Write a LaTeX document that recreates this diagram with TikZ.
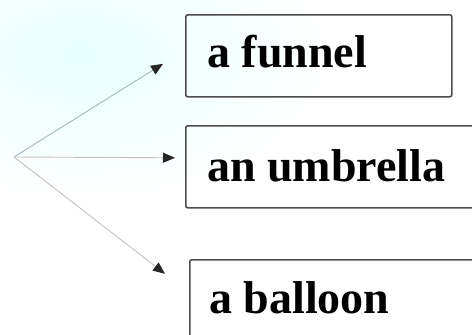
\documentclass[tikz,border=0pt]{standalone}
\usepackage{fontspec}
\setmainfont{Liberation Serif}
\usetikzlibrary{arrows.meta}
\begin{document}
\begin{tikzpicture}[x=1pt,y=-1pt,
  box/.style={draw=black!70, line width=1.6pt, rounded corners=2pt, inner sep=0pt, anchor=north west},
  lbl/.style={anchor=base west, inner sep=0pt, font=\fontsize{46}{46}\selectfont\bfseries},
  link/.style={line width=0.9pt, draw=red!15!black!25, -{Triangle[length=12pt,width=10pt,color=black!85]}}]
\useasboundingbox (0,0) rectangle (472,335);
\clip (0,0) rectangle (472,335);
\shade[inner color=cyan!9, outer color=white] (-170,-90) rectangle (330,200);
% boxes
\node[box, minimum width=266pt, minimum height=82pt] (f) at (185,14) {};
\node[box, minimum width=300pt, minimum height=82pt] (u) at (185,125) {};
\node[box, minimum width=300pt, minimum height=90pt] (b) at (189,259) {};
% labels
\node[lbl] (ft) at (207,67) {a funnel};
\node[lbl] (ut) at (207,181) {an umbrella};
\node[lbl] (bt) at (209,313) {a balloon};
% connectors
\coordinate (o) at (14,157);
\draw[link, draw=cyan!40!black!45] (o) -- ([xshift=-22pt,yshift=-8pt]f.west);
\draw[link] (o) -- ([xshift=-10pt,yshift=9pt]u.west);
\draw[link] (o) -- ([xshift=-24pt,yshift=31pt]b.west);
\end{tikzpicture}
\end{document}
